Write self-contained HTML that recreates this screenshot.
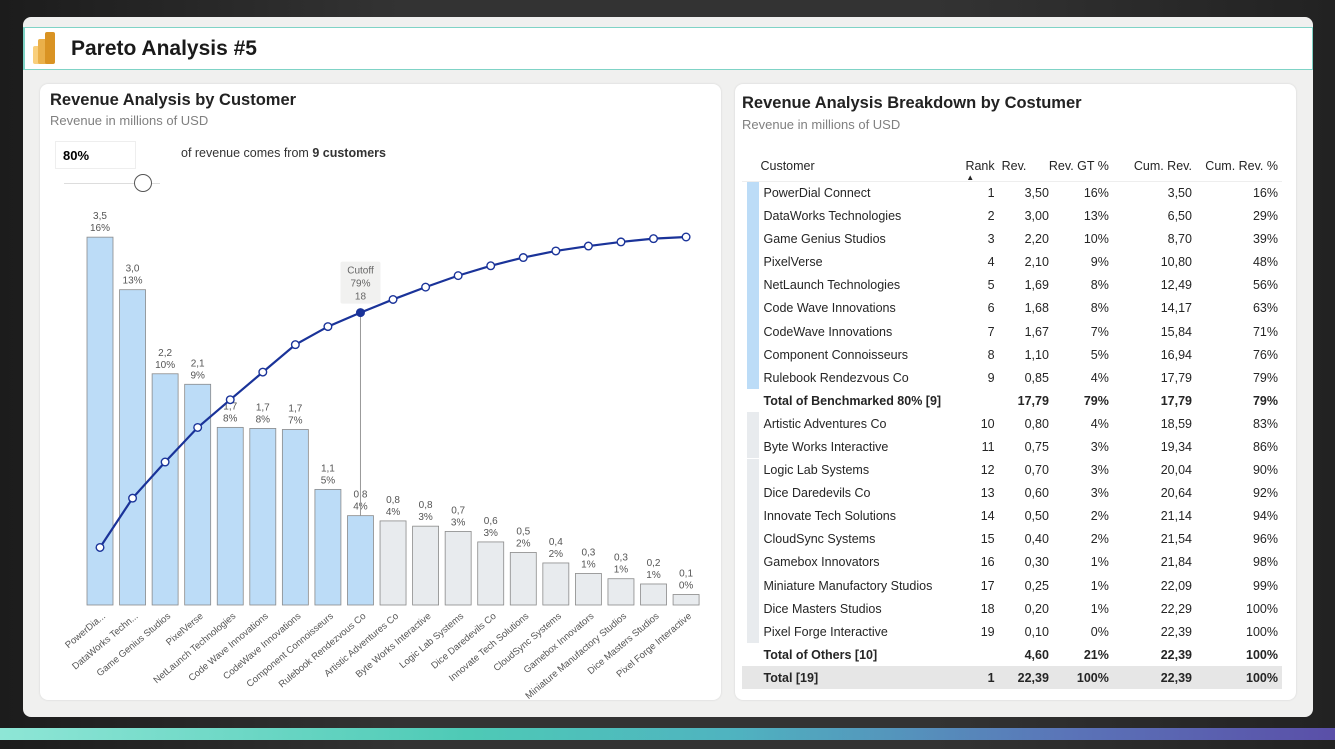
<!DOCTYPE html>
<html><head><meta charset="utf-8">
<style>
*{box-sizing:border-box;margin:0;padding:0}
body{width:1335px;height:749px;overflow:hidden;background:linear-gradient(90deg,#1c1c1c,#333 30%,#333 70%,#222);font-family:"Liberation Sans",sans-serif;position:relative}
#frame{position:absolute;left:23px;top:17px;width:1290px;height:700px;background:#f0f0ef;border-radius:8px}
#header{position:absolute;left:23px;top:27px;width:1290px;height:43px;background:#fff;border:1px solid #7fd3c6;border-left:2px solid #7fd3c6}
#header h1{position:absolute;left:46px;top:9px;font-size:21px;font-weight:bold;color:#1a1a1a}
.card{position:absolute;background:#fff;border-radius:8px;box-shadow:0 0 2px rgba(0,0,0,.12)}
.title{position:absolute;font-size:16.5px;font-weight:bold;color:#222}
.sub{position:absolute;font-size:13px;color:#808080}
#stripe{position:absolute;left:0;top:728px;width:1335px;height:12px;background:linear-gradient(90deg,#8ee6d6,#4ecab6 35%,#4fb3c0 55%,#5a74b8 80%,#5a4fa8)}
table{position:absolute;left:742px;top:151px;width:540px;border-collapse:collapse;font-size:12.5px;color:#252525}
td,th{height:23.1px;padding:0;white-space:nowrap}
th{font-weight:normal;text-align:right;height:30px;vertical-align:middle;border-bottom:1px solid #eee}
td.n{text-align:right}
</style></head><body>
<div id="frame"></div>
<div id="header">
<svg style="position:absolute;left:8px;top:4px" width="24" height="32"><rect x="0" y="14" width="10" height="18" rx="2" fill="#f9cf7c"/><rect x="5" y="7" width="10" height="25" rx="2" fill="#eab04a"/><rect x="12" y="0" width="10" height="32" rx="2" fill="#d99323"/></svg>
<h1>Pareto Analysis #5</h1></div>

<div class="card" style="left:40px;top:84px;width:681px;height:616px">
<div class="title" style="left:10px;top:7px">Revenue Analysis by Customer</div>
<div class="sub" style="left:10px;top:29px">Revenue in millions of USD</div>
<div style="position:absolute;left:15px;top:57px;width:81px;height:28px;border:1px solid #eee;font-size:13px;font-weight:bold;padding:6px 7px">80%</div>
<div style="position:absolute;left:141px;top:62px;font-size:12.5px;color:#333">of revenue comes from <b>9 customers</b></div>
<div style="position:absolute;left:24px;top:99px;width:96px;height:1px;background:#ddd"></div>
<div style="position:absolute;left:94px;top:90px;width:18px;height:18px;border:1.5px solid #555;border-radius:50%;background:#fff"></div>
</div>
<svg id="chart" style="position:absolute;left:0;top:0" width="721" height="700"></svg>

<div class="card" style="left:735px;top:84px;width:561px;height:616px">
<div class="title" style="left:7px;top:10px">Revenue Analysis Breakdown by Costumer</div>
<div class="sub" style="left:7px;top:33px">Revenue in millions of USD</div>
</div>
<table id="tbl">
<colgroup><col style="width:5px"><col style="width:14px"><col style="width:198px"><col style="width:38px"><col style="width:56px"><col style="width:53px"><col style="width:85px"><col style="width:91px"></colgroup>
<thead><tr><th></th><th></th><th style="text-align:left">Customer</th><th style="position:relative">Rank<span style="position:absolute;left:9px;top:22px;font-size:8px">▲</span></th><th style="text-align:left;padding-left:7px">Rev.</th><th>Rev. GT %</th><th>Cum. Rev.</th><th style="padding-right:4px">Cum. Rev. %</th></tr></thead>
<tbody id="tb"></tbody></table>
<div id="stripe"></div>

<script>
const customers=["PowerDial Connect","DataWorks Technologies","Game Genius Studios","PixelVerse","NetLaunch Technologies","Code Wave Innovations","CodeWave Innovations","Component Connoisseurs","Rulebook Rendezvous Co","Artistic Adventures Co","Byte Works Interactive","Logic Lab Systems","Dice Daredevils Co","Innovate Tech Solutions","CloudSync Systems","Gamebox Innovators","Miniature Manufactory Studios","Dice Masters Studios","Pixel Forge Interactive"];
const axisLabels=["PowerDia...","DataWorks Techn...","Game Genius Studios","PixelVerse","NetLaunch Technologies","Code Wave Innovations","CodeWave Innovations","Component Connoisseurs","Rulebook Rendezvous Co","Artistic Adventures Co","Byte Works Interactive","Logic Lab Systems","Dice Daredevils Co","Innovate Tech Solutions","CloudSync Systems","Gamebox Innovators","Miniature Manufactory Studios","Dice Masters Studios","Pixel Forge Interactive"];
const revenue=[3.50,3.00,2.20,2.10,1.69,1.68,1.67,1.10,0.85,0.80,0.75,0.70,0.60,0.50,0.40,0.30,0.25,0.20,0.10];
const cutoffCount=9;
const cutoffLabel=["Cutoff","79%","18"];

const NS="http://www.w3.org/2000/svg";
const svg=document.getElementById('chart');
function mk(t,a,p){const e=document.createElementNS(NS,t);for(const k in a)e.setAttribute(k,a[k]);(p||svg).appendChild(e);return e;}
const total=revenue.reduce((a,b)=>a+b,0);
let c=0;const cum=revenue.map(v=>(c+=v));
const cumPct=cum.map(v=>v/total*100);
const base=605,x0=100,step=32.56,bw=26;
const xS=i=>x0+i*step;
const yV=v=>base-v*105.1;
const yP=p=>base-p*3.68;
const fmt1=v=>v.toFixed(1).replace('.',',');
const fmt2=v=>v.toFixed(2).replace('.',',');
revenue.forEach((v,i)=>{
  const r=mk('rect',{x:xS(i)-bw/2,y:yV(v),width:bw,height:base-yV(v),fill:i<cutoffCount?'#bcdcf7':'#e8ebee',stroke:'#8a8a8a','stroke-width':0.8});
  
  
  const t1=mk('text',{x:xS(i),y:yV(v)-18,'text-anchor':'middle','font-size':10,fill:'#555'});t1.textContent=fmt1(v);
  
  
  const t2=mk('text',{x:xS(i),y:yV(v)-6,'text-anchor':'middle','font-size':10,fill:'#555'});t2.textContent=Math.round(v/total*100)+'%';
  
  
  const tl=mk('text',{x:0,y:0,'text-anchor':'end','font-size':9.5,fill:'#555',transform:`translate(${xS(i)+6},${base+12}) rotate(-40)`});tl.textContent=axisLabels[i];
  
  
});
const ci=cutoffCount-1;
const cl=mk('line',{x1:xS(ci),x2:xS(ci),y1:yP(cumPct[ci]),y2:yV(revenue[ci]),stroke:'#999','stroke-width':1});


const bx=mk('rect',{x:xS(ci)-20,y:yP(cumPct[ci])-51,width:40,height:42,rx:2,fill:'#f1f1f0'});


cutoffLabel.forEach((s,k)=>{const t=mk('text',{x:xS(ci),y:yP(cumPct[ci])-39+k*13,'text-anchor':'middle','font-size':10,fill:'#666'});t.textContent=s;
  
  });
const pl=mk('polyline',{points:cumPct.map((p,i)=>xS(i)+','+yP(p)).join(' '),fill:'none',stroke:'#1a3399','stroke-width':2.2});


cumPct.forEach((p,i)=>{const d=mk('circle',{cx:xS(i),cy:yP(p),r:3.8,fill:i==ci?'#1a3399':'#fff',stroke:'#1a3399','stroke-width':1.4});
  
  });

const tb=document.getElementById('tb');
function row(cells,opts){const tr=document.createElement('tr');
  tr.innerHTML=`<td></td><td><div style="width:12px;height:23px;background:${opts.ind||'transparent'}"></div></td><td style="padding-left:3px">${cells[0]}</td><td class="n">${cells[1]}</td><td class="n">${cells[2]}</td><td class="n">${cells[3]}</td><td class="n">${cells[4]}</td><td class="n">${cells[5]}</td>`;
  if(opts.bold)tr.style.fontWeight='bold';
  if(opts.bg)tr.style.background=opts.bg;
  
  
  tb.appendChild(tr);}
const pct=v=>Math.round(v)+'%';
revenue.forEach((v,i)=>{
  row([customers[i],i+1,fmt2(v),pct(v/total*100),fmt2(cum[i]),pct(cumPct[i])],{ind:i<cutoffCount?'#bcdcf7':'#e8ebee',name:'table-row'});
  if(i==cutoffCount-1){const s=cum[ci];row(['Total of Benchmarked 80% ['+cutoffCount+']','',fmt2(s),pct(s/total*100),fmt2(s),pct(s/total*100)],{bold:1,name:'benchmark-total-row'});}
});
const oth=total-cum[ci];
row(['Total of Others ['+(revenue.length-cutoffCount)+']','',fmt2(oth),pct(oth/total*100),fmt2(total),'100%'],{bold:1,name:'others-total-row'});
row(['Total ['+revenue.length+']','1',fmt2(total),'100%',fmt2(total),'100%'],{bold:1,bg:'#e6e6e6',name:'grand-total-row'});
document.querySelectorAll('#tb td:last-child').forEach(t=>t.style.paddingRight='4px');
</script>
</body></html>
